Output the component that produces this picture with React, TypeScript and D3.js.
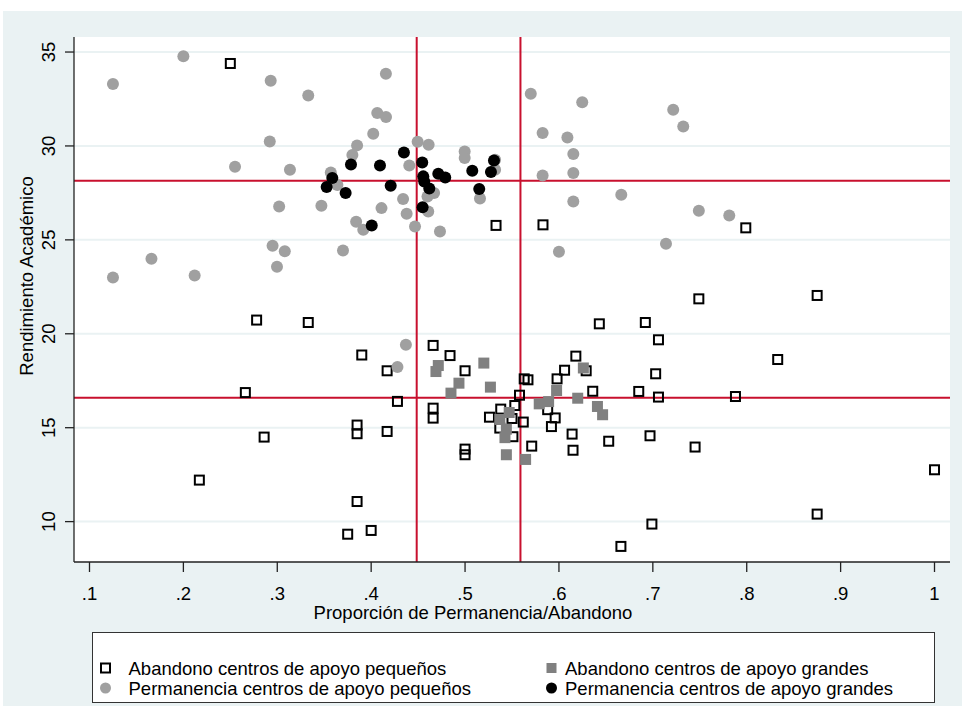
import React from "react";
import { scaleLinear } from "d3";

// Abandono centros de apoyo pequeños (hollow squares) [proporción, rendimiento]
const abandonoPequenos: [number, number][] = [
  [0.25, 34.39], [0.533, 25.77], [0.583, 25.8], [0.799, 25.64],
  [0.278, 20.73], [0.333, 20.6], [0.39, 18.87], [0.266, 16.87],
  [0.286, 14.5], [0.385, 15.14], [0.385, 14.68], [0.217, 12.21],
  [0.385, 11.07], [0.375, 9.33], [0.4, 9.53], [0.417, 18.03],
  [0.466, 19.38], [0.484, 18.84], [0.5, 18.03], [0.428, 16.4],
  [0.466, 16.04], [0.466, 15.51], [0.417, 14.8], [0.5, 13.86],
  [0.5, 13.56], [0.563, 17.6], [0.567, 17.55], [0.558, 16.73],
  [0.553, 16.18], [0.538, 15.99], [0.526, 15.56], [0.55, 15.49],
  [0.562, 15.3], [0.537, 14.98], [0.551, 14.52], [0.571, 14.02],
  [0.598, 17.6], [0.606, 18.06], [0.618, 18.81], [0.629, 18.03],
  [0.588, 15.96], [0.596, 15.52], [0.592, 15.06], [0.636, 16.94],
  [0.614, 14.66], [0.615, 13.8], [0.653, 14.28], [0.643, 20.53],
  [0.692, 20.6], [0.706, 19.68], [0.703, 17.87], [0.685, 16.93],
  [0.706, 16.63], [0.697, 14.57], [0.749, 21.86], [0.875, 22.04],
  [0.833, 18.63], [0.788, 16.66], [0.745, 13.97], [1.0, 12.76],
  [0.875, 10.4], [0.699, 9.87], [0.666, 8.68],
];

// Abandono centros de apoyo grandes (gray squares)
const abandonoGrandes: [number, number][] = [
  [0.4715, 18.31], [0.469, 17.99], [0.52, 18.44], [0.4935, 17.37],
  [0.485, 16.84], [0.527, 17.16], [0.547, 15.81], [0.537, 15.44],
  [0.544, 14.92], [0.5425, 14.47], [0.544, 13.56], [0.5645, 13.31],
  [0.579, 16.27], [0.589, 16.39], [0.5975, 16.98], [0.62, 16.57],
  [0.626, 18.18], [0.641, 16.13], [0.6465, 15.69],
];

// Permanencia centros de apoyo pequeños (light gray circles)
const permanenciaPequenos: [number, number][] = [
  [0.125, 33.3], [0.2, 34.77], [0.293, 33.47], [0.333, 32.69],
  [0.4157, 33.84], [0.4065, 31.75], [0.4158, 31.54], [0.292, 30.24],
  [0.255, 28.89], [0.3135, 28.73], [0.357, 28.59], [0.364, 27.92],
  [0.38, 29.52], [0.385, 30.03], [0.4022, 30.65], [0.302, 26.78],
  [0.347, 26.82], [0.384, 25.96], [0.295, 24.69], [0.308, 24.4],
  [0.2997, 23.57], [0.37, 24.43], [0.166, 24.0], [0.125, 23.0],
  [0.212, 23.1], [0.4495, 30.22], [0.4612, 30.06], [0.4996, 29.71],
  [0.4996, 29.36], [0.532, 29.27], [0.532, 28.73], [0.4406, 28.96],
  [0.467, 27.49], [0.46, 27.31], [0.5159, 27.2], [0.434, 27.17],
  [0.411, 26.69], [0.4378, 26.39], [0.4608, 26.51], [0.3916, 25.54],
  [0.4467, 25.71], [0.4733, 25.45], [0.57, 32.78], [0.6248, 32.32],
  [0.7217, 31.93], [0.7324, 31.04], [0.5826, 30.69], [0.609, 30.45],
  [0.6153, 29.57], [0.5826, 28.43], [0.6153, 28.56], [0.6153, 27.04],
  [0.6664, 27.4], [0.749, 26.55], [0.7814, 26.3], [0.714, 24.79],
  [0.6, 24.37], [0.437, 19.41], [0.428, 18.23],
];

// Permanencia centros de apoyo grandes (black circles)
const permanenciaGrandes: [number, number][] = [
  [0.3785, 29.01], [0.3586, 28.29], [0.3526, 27.81], [0.3728, 27.49],
  [0.4094, 28.96], [0.4349, 29.65], [0.4544, 29.12], [0.4555, 28.38],
  [0.4565, 28.11], [0.4619, 27.74], [0.4208, 27.88], [0.4715, 28.52],
  [0.4789, 28.32], [0.5077, 28.68], [0.5308, 29.23], [0.5276, 28.61],
  [0.5151, 27.71], [0.4548, 26.73], [0.4006, 25.77],
];

// reference lines
const refX = [0.4485, 0.559];
const refY = [28.15, 16.6];

const xTicks = [0.1, 0.2, 0.3, 0.4, 0.5, 0.6, 0.7, 0.8, 0.9, 1];
const xTickLabels = [".1", ".2", ".3", ".4", ".5", ".6", ".7", ".8", ".9", "1"];
const yTicks = [10, 15, 20, 25, 30, 35];

const legendLabels = [
  "Abandono centros de apoyo pequeños",
  "Abandono centros de apoyo grandes",
  "Permanencia centros de apoyo pequeños",
  "Permanencia centros de apoyo grandes",
];

const W = 965;
const H = 709;
const plot = { left: 74, right: 950, top: 37, bottom: 562 };
const BG = "#EAF2F3";
const RED = "#C8102E";
const FONT = "'Liberation Sans', Arial, sans-serif";

const App = () => {
  const x = scaleLinear().domain([0.0835, 1.0165]).range([plot.left, plot.right]);
  const y = scaleLinear().domain([7.85, 35.8]).range([plot.bottom, plot.top]);

  const sq = 9;
  const gsq = 11;
  const r = 6;

  const legendSymbol = (i: number, cx: number, cy: number) => {
    if (i === 0)
      return <rect x={cx - 4.5} y={cy - 4.5} width={9} height={9} fill="none" stroke="#000" strokeWidth={2} />;
    if (i === 1) return <rect x={cx - 5} y={cy - 5} width={10} height={10} fill="#808080" />;
    if (i === 2) return <circle cx={cx} cy={cy} r={5.5} fill="#A0A0A0" />;
    return <circle cx={cx} cy={cy} r={5.5} fill="#000" />;
  };

  return (
    <svg
      width={W}
      height={H}
      style={{ position: "absolute", left: 0, top: 0, display: "block" }}
      fontFamily={FONT}
    >
      <rect x={0} y={0} width={W} height={H} fill="#fff" />
      <rect x={3} y={11} width={959} height={695} fill={BG} />
      <rect x={plot.left} y={plot.top} width={plot.right - plot.left} height={plot.bottom - plot.top} fill="#fff" />

      {/* gridlines */}
      {yTicks.map((t) => (
        <line key={"g" + t} x1={plot.left} x2={plot.right} y1={y(t)} y2={y(t)} stroke={BG} strokeWidth={2} />
      ))}

      {/* reference lines */}
      {refX.map((v) => (
        <line key={"rx" + v} x1={x(v)} x2={x(v)} y1={plot.top} y2={plot.bottom} stroke={RED} strokeWidth={2} />
      ))}
      {refY.map((v) => (
        <line key={"ry" + v} x1={plot.left} x2={plot.right} y1={y(v)} y2={y(v)} stroke={RED} strokeWidth={2} />
      ))}

      {/* series */}
      {abandonoPequenos.map((d, i) => (
        <rect key={"ap" + i} x={x(d[0]) - sq / 2} y={y(d[1]) - sq / 2} width={sq} height={sq}
          fill="none" stroke="#000" strokeWidth={2} />
      ))}
      {abandonoGrandes.map((d, i) => (
        <rect key={"ag" + i} x={x(d[0]) - gsq / 2} y={y(d[1]) - gsq / 2} width={gsq} height={gsq} fill="#808080" />
      ))}
      {permanenciaPequenos.map((d, i) => (
        <circle key={"pp" + i} cx={x(d[0])} cy={y(d[1])} r={r} fill="#A0A0A0" />
      ))}
      {permanenciaGrandes.map((d, i) => (
        <circle key={"pg" + i} cx={x(d[0])} cy={y(d[1])} r={r} fill="#000" />
      ))}

      {/* axes */}
      <line x1={plot.left} x2={plot.left} y1={plot.top} y2={plot.bottom} stroke="#222" strokeWidth={1.3} />
      <line x1={plot.left} x2={plot.right} y1={plot.bottom} y2={plot.bottom} stroke="#222" strokeWidth={1.3} />
      {yTicks.map((t) => (
        <g key={"yt" + t}>
          <line x1={plot.left - 9} x2={plot.left} y1={y(t)} y2={y(t)} stroke="#222" strokeWidth={1.3} />
          <text transform={`translate(55,${y(t)}) rotate(-90)`} textAnchor="middle" fontSize={18.5} fill="#000">
            {t}
          </text>
        </g>
      ))}
      {xTicks.map((t, i) => (
        <g key={"xt" + t}>
          <line x1={x(t)} x2={x(t)} y1={plot.bottom} y2={plot.bottom + 10} stroke="#222" strokeWidth={1.3} />
          <text x={x(t)} y={599.5} textAnchor="middle" fontSize={18.5} fill="#000">
            {xTickLabels[i]}
          </text>
        </g>
      ))}

      {/* axis titles */}
      <text transform="translate(33,276) rotate(-90)" textAnchor="middle" fontSize={18.5} fill="#000">
        Rendimiento Académico
      </text>
      <text x={473} y={619} textAnchor="middle" fontSize={18.5} fill="#000">
        Proporción de Permanencia/Abandono
      </text>

      {/* legend */}
      <rect x={92.5} y={632.5} width={842} height={70} fill="#fff" stroke="#333" strokeWidth={1} />
      {legendLabels.map((lab, i) => {
        const col = i % 2;
        const row = Math.floor(i / 2);
        const sx = col === 0 ? 105.5 : 551.5;
        const tx = col === 0 ? 128.5 : 565;
        const cy = row === 0 ? 668 : 688;
        return (
          <g key={"lg" + i}>
            {legendSymbol(i, sx, cy)}
            <text x={tx} y={cy + 6.5} fontSize={18.5} fill="#000">
              {lab}
            </text>
          </g>
        );
      })}
    </svg>
  );
};

export default App;
